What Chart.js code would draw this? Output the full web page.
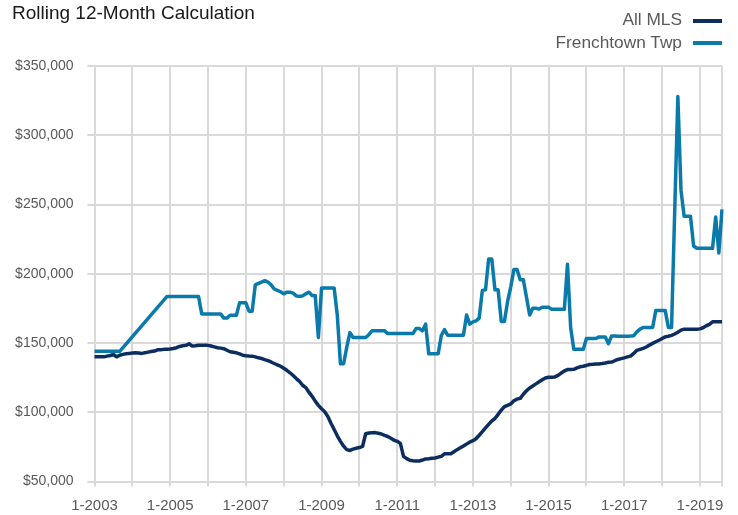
<!DOCTYPE html>
<html>
<head>
<meta charset="utf-8">
<script src="https://cdn.jsdelivr.net/npm/chart.js@4.4.1/dist/chart.umd.min.js"></script>
<style>
	body { margin: 0; background: #fff; }
	#wrap { position: relative; width: 738px; height: 515px; font-family: "Liberation Sans", Arial, sans-serif; }
	#title { position: absolute; left: 12px; top: 3px; font-size: 19px; line-height: 19px; color: #1a1a1a; white-space: nowrap; }
	.legtext { position: absolute; right: 56px; font-size: 17.3px; line-height: 17px; color: #595959; white-space: nowrap; }
	.legline { position: absolute; left: 693px; width: 29px; height: 4px; }
</style>
</head>
<body>
<div id="wrap">
	<canvas id="chart" width="738" height="515"></canvas>
	<div id="title">Rolling 12-Month Calculation</div>
	<div class="legtext" style="top:11px">All MLS</div>
	<div class="legline" style="top:19px;background:#0c2d5f"></div>
	<div class="legtext" style="top:34px">Frenchtown Twp</div>
	<div class="legline" style="top:41px;background:#0a7aab"></div>
</div>
<script>
const startYear = 2003;
const monthCount = 200; // 1-2003 .. 8-2019

const yearTicks = ["1-2003", "1-2005", "1-2007", "1-2009", "1-2011", "1-2013", "1-2015", "1-2017", "1-2019"];

// rolling 12-month median, in thousands of dollars, one row per year
const allMLS = [
	140, 140, 140, 140, 140.5, 141, 141.7, 140, 141.2, 141.8, 142.2, 142.5,
	142.7, 142.9, 142.7, 142.5, 143, 143.4, 143.8, 144.2, 145.1, 145.2, 145.4, 145.5,
	145.6, 146, 146.6, 147.5, 148, 148.3, 149.5, 147.8, 148, 148.3, 148.3, 148.3,
	148.3, 147.8, 147.2, 146.6, 146.3, 145.9, 144.8, 143.7, 143.3, 142.9, 142.1, 141.2,
	140.8, 140.6, 140.5, 140, 139.3, 138.8, 138, 137.3, 136.3, 135.2, 134.2, 133.2,
	131.8, 130.3, 128.5, 126.5, 124.3, 122.3, 119.5, 117.8, 114.5, 111.5, 108, 105,
	102.5, 100.4, 97, 92, 87.5, 83, 79, 75.5, 73, 72.4, 73.4, 74,
	74.5, 75.3, 84.5, 85, 85.2, 85.3, 84.8, 84.3, 83.3, 82.5, 81.2, 79.8,
	79, 77.5, 68.2, 66.5, 65.3, 65, 64.8, 64.8, 65.5, 66.3, 66.5, 66.8,
	67, 67.6, 68.2, 70, 70, 70, 71.5, 73, 74.3, 75.7, 77, 78.5,
	79.5, 80.9, 83.4, 86, 88.7, 91.3, 93.8, 95.5, 98.5, 101.5, 104, 105,
	106, 108.3, 109.5, 110, 113, 115.5, 117.5, 119, 120.5, 122, 123.4, 124.7,
	125.3, 125.2, 125.5, 126.6, 128.3, 129.8, 130.8, 130.8, 131, 132, 132.8, 133.2,
	133.8, 134.5, 134.6, 134.8, 134.9, 135.2, 135.6, 136.1, 136.2, 137.2, 138.1, 138.7,
	139.3, 140, 140.5, 142.5, 144.7, 145.4, 146.1, 147.1, 148.5, 149.7, 150.9, 152,
	153.2, 154.4, 154.9, 155.5, 156.5, 157.8, 159.3, 160, 160, 160, 160, 160,
	160.2, 161, 162.4, 163.5, 165.3, 165.3, 165.3, 165.3
];

// null = no sales that month, the line just spans the gap
const frenchtown = [
	144, 144, 144, 144, 144, 144, 144, 144, 144, null, null, null,
	null, null, null, null, null, null, null, null, null, null, null, 183.6,
	183.6, 183.6, 183.6, 183.6, 183.6, 183.6, 183.6, 183.6, 183.6, 183.6, 171, 171,
	171, 171, 171, 171, 171, 168, 168, 170, 170, 170, 179, 179,
	179, 173, 173, 192, 193, 194, 195, 194, 192, 189, 188, 187,
	185.5, 186.7, 186.7, 186, 184, 183.8, 184, 185.5, 186.7, 184.3, 184.3, 154,
	189.7, 189.7, 189.7, 189.7, 189.7, 170, 135, 135, 147, 157.5, 154, 154,
	154, 154, 154, 156, 158.8, 158.8, 158.8, 158.8, 158.8, 156.8, 156.8, 156.8,
	156.8, 156.8, 156.8, 156.8, 156.8, 156.8, 160.5, 160.5, 158.8, 163.6, 142.2, 142.2,
	142.2, 142.2, 155.6, 159.7, 155.6, 155.6, 155.6, 155.6, 155.6, 155.6, 170.2, 163.6,
	165.3, 166, 168, 188, 188.4, 210.6, 210.6, 188.4, 188.4, 165.6, 165.6, 180,
	190.4, 203, 203, 195.7, 195.7, 183, 170.2, 175.1, 175.1, 174.5, 175.8, 175.8,
	175.8, 174.3, 174.3, 174.3, 174.3, 174.3, 206.9, 161.2, 145.4, 145.4, 145.4, 145.4,
	153.2, 153.2, 153.2, 153.2, 154.4, 154.4, 154.4, 149.5, 155.1, 155.1, 154.8, 154.8,
	154.8, 154.8, 155, 155.3, 158, 160, 161.2, 161.2, 161.2, 161.2, 173.4, 173.4,
	173.4, 173.4, 161.2, 161.2, 245, 328, 260, 241.5, 241.5, 241.5, 220, 218.4,
	218.4, 218.4, 218.4, 218.4, 218.4, 241, 215, 246.4
];

const monthLabels = [];
for (let i = 0; i < monthCount; i++) {
	monthLabels.push((i % 12 + 1) + "-" + (startYear + Math.floor(i / 12)));
}

const gridGrey = "#d9d9d9";
const labelGrey = "#595959";
const fontFamily = "'Liberation Sans', Arial, sans-serif";

function yearLine(ctx) {
	return ctx.index % 12 === 0 || ctx.index === monthLabels.length - 1 ? gridGrey : "rgba(0,0,0,0)";
}

const chartContext = document.getElementById("chart").getContext("2d");

let rollingChart = new Chart(chartContext, {
	type: "line",
	data: {
		labels: monthLabels,
		datasets: [
			{
				label: "All MLS",
				data: allMLS.map(v => v * 1000),
				borderColor: "#0c2d5f",
				borderWidth: 3.5,
				pointRadius: 0,
				tension: 0,
				borderJoinStyle: "round",
				order: 1
			},
			{
				label: "Frenchtown Twp",
				data: frenchtown.map(v => (v === null ? null : v * 1000)),
				borderColor: "#0a7aab",
				borderWidth: 3.5,
				pointRadius: 0,
				tension: 0,
				spanGaps: true,
				borderJoinStyle: "round",
				order: 0
			}
		]
	},
	options: {
		responsive: false,
		animation: false,
		layout: { padding: { top: 66, right: 16, left: 0, bottom: 0 } },
		plugins: {
			legend: { display: false },
			tooltip: { enabled: false }
		},
		scales: {
			x: {
				grid: { color: yearLine, tickColor: yearLine, lineWidth: 2, tickLength: 5 },
				border: { display: false },
				ticks: {
					autoSkip: false,
					maxRotation: 0,
					color: labelGrey,
					padding: 10,
					font: { family: fontFamily, size: 15 },
					callback: function (value, index) {
						return yearTicks.includes(monthLabels[index]) ? monthLabels[index] : "";
					}
				},
				afterFit: function (scale) {
					scale.height = 33.5;
				}
			},
			y: {
				min: 50000,
				max: 350000,
				grid: { color: gridGrey, lineWidth: 2, tickLength: 7 },
				border: { display: false },
				ticks: {
					stepSize: 50000,
					color: labelGrey,
					padding: 14,
					font: { family: fontFamily, size: 14 },
					callback: function (value) {
						return "$" + value.toLocaleString("en-US");
					}
				},
				afterFit: function (scale) {
					scale.width = 94.5;
				}
			}
		}
	}
});
</script>
</body>
</html>
